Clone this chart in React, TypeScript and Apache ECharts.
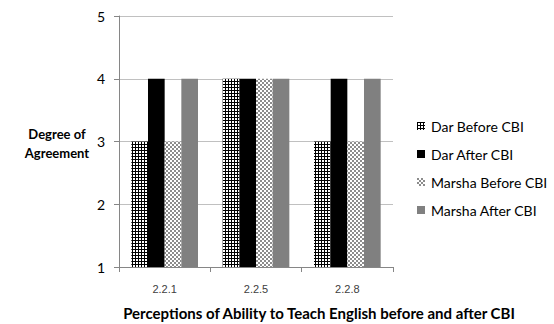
import React, { useEffect, useRef } from "react";
import * as echarts from "echarts";

const categories = ["2.2.1", "2.2.5", "2.2.8"];
const seriesNames = ["Dar Before CBI", "Dar After CBI", "Marsha Before CBI", "Marsha After CBI"];
const darBefore = [3, 4, 3];
const darAfter = [4, 4, 4];
const marshaBefore = [3, 4, 3];
const marshaAfter = [4, 4, 4];
const yTicks = [1, 2, 3, 4, 5];

function gridPattern(): string {
  const c = document.createElement("canvas");
  c.width = 3;
  c.height = 3;
  const ctx = c.getContext("2d")!;
  ctx.fillStyle = "#ffffff";
  ctx.fillRect(0, 0, 3, 3);
  ctx.fillStyle = "#000000";
  ctx.fillRect(0, 0, 3, 1);
  ctx.fillRect(0, 0, 1, 3);
  return c.toDataURL();
}

function checkerPattern(): string {
  const c = document.createElement("canvas");
  c.width = 4;
  c.height = 4;
  const ctx = c.getContext("2d")!;
  ctx.fillStyle = "#ffffff";
  ctx.fillRect(0, 0, 4, 4);
  ctx.fillStyle = "#8c8c8c";
  ctx.fillRect(0, 0, 2, 2);
  ctx.fillRect(2, 2, 2, 2);
  return c.toDataURL();
}

export default function App() {
  const ref = useRef<HTMLDivElement>(null);
  useEffect(() => {
    if (!ref.current) return;
    const chart = echarts.init(ref.current, null, { renderer: "svg" });
    const font = "Lato, 'Open Sans', sans-serif";
    const colors: any[] = [
      { image: gridPattern(), repeat: "repeat" },
      "#000000",
      { image: checkerPattern(), repeat: "repeat" },
      "#808080",
    ];
    const values = [darBefore, darAfter, marshaBefore, marshaAfter];
    chart.setOption({
      animation: false,
      backgroundColor: "#ffffff",
      grid: { left: 119, right: 161, top: 16, bottom: 57, containLabel: false, outerBoundsMode: "none" },
      legend: {
        orient: "vertical",
        left: 412,
        top: 114,
        itemWidth: 8,
        itemHeight: 8,
        itemGap: 14,
        icon: "rect",
        textStyle: { fontFamily: font, fontSize: 14, color: "#000", padding: [0, 0, 0, 1] },
        data: seriesNames,
      },
      xAxis: {
        type: "category",
        data: categories,
        axisLine: { lineStyle: { color: "#868686" } },
        axisTick: { show: true, length: 5, lineStyle: { color: "#868686" } },
        axisLabel: { fontFamily: "Arial, 'Liberation Sans', sans-serif", fontSize: 11, color: "#404040", margin: 16 },
      },
      yAxis: {
        type: "value",
        min: 1,
        max: 5,
        interval: 1,
        axisLine: { show: true, lineStyle: { color: "#868686" } },
        axisTick: { show: true, length: 5, lineStyle: { color: "#868686" } },
        splitLine: { lineStyle: { color: "#c0c0c0" } },
        axisLabel: {
          fontFamily: font,
          fontSize: 14,
          color: "#000",
          margin: 14,
          formatter: (v: number) => (yTicks.includes(v) ? String(v) : ""),
        },
      },
      graphic: [
        {
          type: "text",
          x: 57,
          y: 124,
          style: {
            text: "Degree of\nAgreement",
            fontFamily: font,
            fontSize: 13,
            fontWeight: "bold",
            fill: "#000",
            align: "center",
            verticalAlign: "top",
            lineHeight: 19,
          },
        },
        {
          type: "text",
          x: 319,
          y: 313,
          style: {
            text: "Perceptions of Ability to Teach English before and after CBI",
            fontFamily: font,
            fontSize: 15,
            fontWeight: "bold",
            fill: "#000",
            align: "center",
            verticalAlign: "middle",
          },
        },
      ],
      series: seriesNames.map((name, i) => ({
        name,
        type: "bar",
        data: values[i],
        barGap: "0%",
        barCategoryGap: "27%",
        itemStyle: { color: colors[i] },
      })),
    });
    return () => chart.dispose();
  }, []);
  return <div ref={ref} style={{ width: 554, height: 324, position: "absolute", left: 0, top: 0 }} />;
}
